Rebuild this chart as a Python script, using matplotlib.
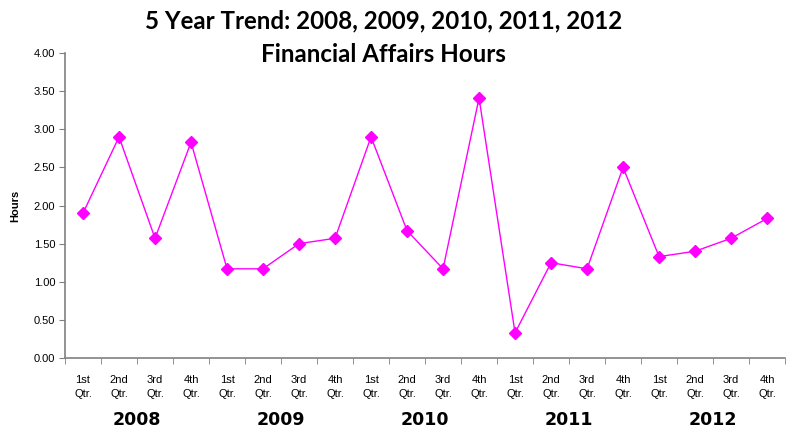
import numpy as np
import matplotlib
matplotlib.use("Agg")
import matplotlib.pyplot as plt

# ----------------------------
# Data
# ----------------------------
YEARS = ["2008", "2009", "2010", "2011", "2012"]
QUARTERS = ["1st\nQtr.", "2nd\nQtr.", "3rd\nQtr.", "4th\nQtr."]
HOURS = [1.90, 2.90, 1.57, 2.83,
         1.17, 1.17, 1.50, 1.57,
         2.90, 1.67, 1.17, 3.41,
         0.33, 1.25, 1.17, 2.50,
         1.33, 1.40, 1.57, 1.83]

MAGENTA = "#ff00ff"
AXIS_GREY = "#808080"

x = np.arange(len(HOURS))
tick_labels = QUARTERS * len(YEARS)

fig = plt.figure(figsize=(7.93, 4.30), dpi=100)
ax = fig.add_axes([0.082, 0.1674, 0.908, 0.7093])

ax.plot(x, HOURS, color=MAGENTA, lw=1.0, marker="D", ms=6.5,
        markerfacecolor=MAGENTA, markeredgecolor=MAGENTA)

ax.set_xlim(-0.5, len(HOURS) - 0.5)
ax.set_ylim(0, 4.0)
yt = np.arange(0, 4.01, 0.5)
ax.set_yticks(yt)
ax.set_yticklabels([f"{v:.2f}" for v in yt],
                   fontfamily="Liberation Sans", fontsize=8)

# category labels centered, tick marks on category boundaries
ax.set_xticks(x)
ax.set_xticklabels(tick_labels, fontfamily="Liberation Sans", fontsize=8,
                   linespacing=1.6)
ax.tick_params(axis="x", which="major", length=0, pad=12)
ax.set_xticks(np.arange(-0.5, len(HOURS), 1.0), minor=True)
ax.tick_params(axis="x", which="minor", length=4, direction="out",
               color=AXIS_GREY)
ax.tick_params(axis="y", length=4, direction="out", color=AXIS_GREY, pad=3)

for side in ("top", "right"):
    ax.spines[side].set_visible(False)
for side in ("left", "bottom"):
    ax.spines[side].set_color(AXIS_GREY)
    ax.spines[side].set_linewidth(1.2)

ax.set_ylabel("Hours", fontfamily="Liberation Sans", fontsize=8,
              fontweight="bold", labelpad=10)

# year labels under each group of four quarters
for i, yr in enumerate(YEARS):
    ax.text(i * 4 + 1.5, -0.203, yr, transform=ax.get_xaxis_transform(),
            ha="center", va="center", fontsize=12.5, fontweight="bold",
            fontfamily="DejaVu Sans")

# two-line title, placed line by line
fig.text(0.484, 1 - 21 / 430, "5 Year Trend: 2008, 2009, 2010, 2011, 2012",
         ha="center", va="center", fontsize=17.4, fontweight="bold",
         fontfamily="Lato")
fig.text(0.484, 1 - 55 / 430, "Financial Affairs Hours",
         ha="center", va="center", fontsize=17.4, fontweight="bold",
         fontfamily="Lato")

fig.savefig("out.png", dpi=100)
